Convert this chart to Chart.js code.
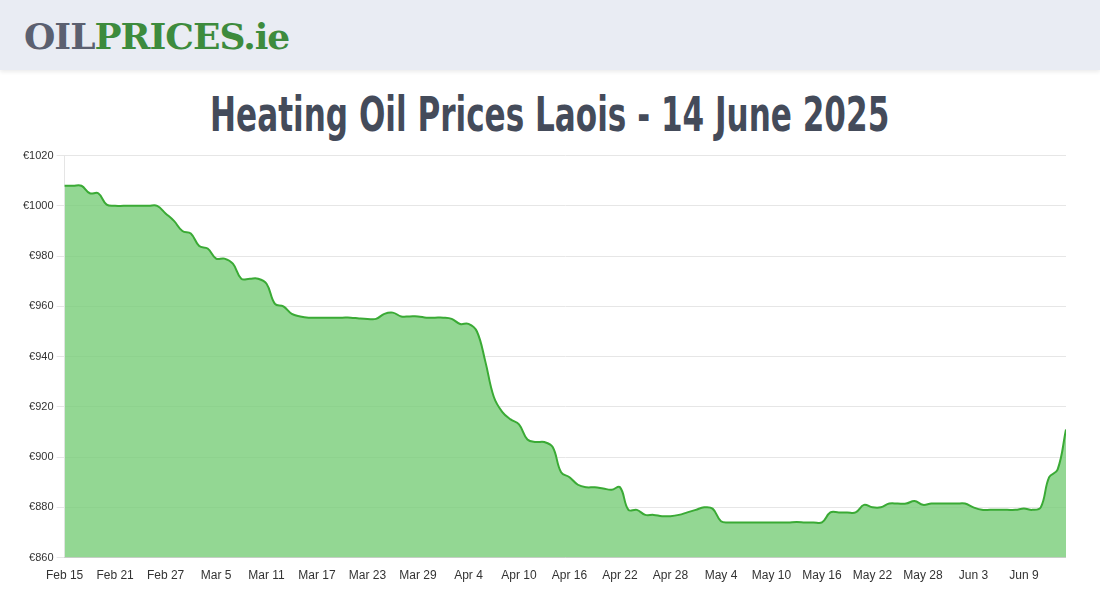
<!DOCTYPE html>
<html>
<head>
<meta charset="utf-8">
<script src="https://cdn.jsdelivr.net/npm/chart.js@4"></script>
<style>
  body { margin: 0; background: #fff; font-family: "Liberation Sans", Arial, sans-serif; }
  .header { height: 70px; background: #e9ecf3; box-shadow: 0 2px 4px rgba(0,0,0,0.08); position: relative; }
  .logo { position: absolute; left: 24px; top: 15px; font-family: "DejaVu Serif", serif; font-weight: bold; font-size: 36px; letter-spacing: -1px; }
  .logo .a { color: #5b6070; }
  .logo .b { color: #3d8b3d; }
  h1 { margin: 0; padding-top: 16px; text-align: center; font-family: "DejaVu Sans Condensed", sans-serif; font-weight: bold; font-size: 48px; color: #444b5a; height: 68px; }
  h1 span { display: inline-block; transform: scaleX(0.72); }
  .wrap { position: absolute; left: 20px; top: 146px; width: 1046px; height: 440px; }
</style>
</head>
<body>
<div class="header"><div class="logo"><span class="a">OIL</span><span class="b">PRICES.ie</span></div></div>
<h1><span>Heating Oil Prices Laois - 14 June 2025</span></h1>
<div class="wrap"><canvas id="chart"></canvas></div>
<script>
// Daily prices, Feb 15 - Jun 14 2025
const startDate = new Date(2025, 1, 15);
const prices = [
  1008, 1008, 1008, 1005, 1005, 1000.5, 1000, 1000, 1000, 1000, 1000, 1000,
  997, 994, 990, 989, 984, 983, 979, 979, 977, 971, 971, 971,
  969, 961, 960, 957, 956, 955.5, 955.5, 955.5, 955.5, 955.5, 955.5, 955.2,
  955, 955, 957, 957.5, 956, 956, 956, 955.5, 955.5, 955.5, 955, 953,
  953, 950, 938, 924, 918, 915, 913, 907, 906, 906, 904, 894,
  892, 889, 888, 888, 887.5, 887, 888, 879, 879, 877, 877, 876.5,
  876.5, 877, 878, 879, 880, 879.5, 874.5, 874, 874, 874, 874, 874,
  874, 874, 874, 874.2, 874, 874, 874, 878, 878, 878, 878, 881,
  880, 880, 881.5, 881.5, 881.5, 882.5, 881, 881.5, 881.5, 881.5, 881.5, 881.5,
  880, 879, 879, 879, 879, 879, 879.5, 879, 880, 892, 895, 911
];
const months = ['Jan','Feb','Mar','Apr','May','Jun','Jul'];
const labels = prices.map((_, i) => {
  const d = new Date(startDate.getTime() + i * 86400000);
  return months[d.getMonth()] + ' ' + d.getDate();
});
const yTicks = [860, 880, 900, 920, 940, 960, 980, 1000, 1020];

new Chart(document.getElementById('chart'), {
  type: 'line',
  data: {
    labels: labels,
    datasets: [{
      data: prices,
      borderColor: '#3aaa35',
      backgroundColor: 'rgba(120, 205, 120, 0.8)',
      borderWidth: 2,
      fill: true,
      tension: 0.4,
      pointRadius: 0
    }]
  },
  options: {
    responsive: true,
    maintainAspectRatio: false,
    animation: false,
    plugins: { legend: { display: false }, tooltip: { enabled: false } },
    scales: {
      x: {
        grid: { display: false },
        ticks: {
          autoSkip: false, maxRotation: 0, color: '#333', font: { size: 12 },
          callback: function (v, i) { return i % 6 === 0 ? labels[i] : null; }
        }
      },
      y: {
        min: yTicks[0], max: yTicks[yTicks.length - 1],
        afterBuildTicks: axis => { axis.ticks = yTicks.map(v => ({ value: v })); },
        grid: { color: '#e6e6e6' },
        ticks: { color: '#333', font: { size: 11 }, callback: v => '€' + v }
      }
    }
  }
});
</script>
</body>
</html>
